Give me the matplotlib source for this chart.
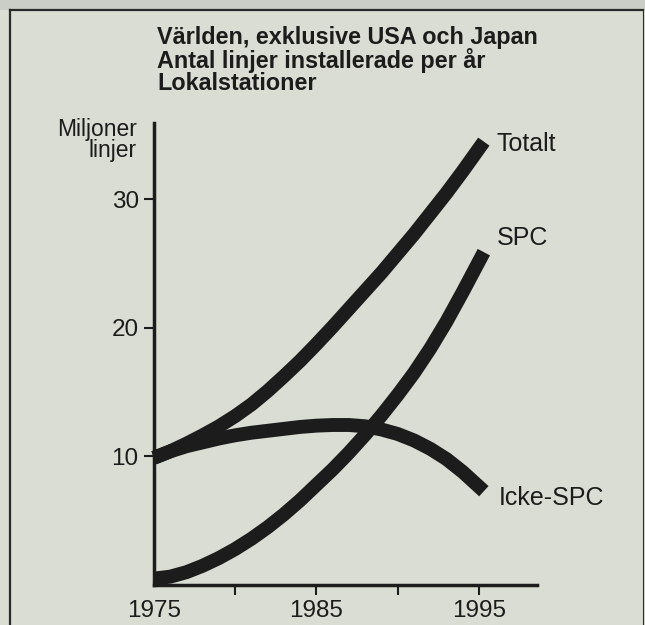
import matplotlib.pyplot as plt
from matplotlib.lines import Line2D
from matplotlib.patches import Rectangle

# data (millions of lines per year)
years = [1975, 1976, 1977, 1978, 1979, 1980, 1981, 1982, 1983, 1984, 1985,
         1986, 1987, 1988, 1989, 1990, 1991, 1992, 1993, 1994, 1995.3]
totalt = [9.9, 10.4, 11.0, 11.65, 12.35, 13.15, 14.05, 15.1, 16.25, 17.45, 18.75,
          20.1, 21.5, 22.9, 24.3, 25.8, 27.3, 28.9, 30.5, 32.2, 34.5]
spc = [0.5, 0.65, 1.0, 1.5, 2.1, 2.8, 3.6, 4.5, 5.5, 6.6, 7.8,
       9.0, 10.3, 11.7, 13.2, 14.8, 16.5, 18.4, 20.5, 22.8, 25.9]
icke_spc = [9.9, 10.4, 10.8, 11.1, 11.4, 11.65, 11.85, 12.0, 12.15, 12.3, 12.4,
            12.45, 12.45, 12.35, 12.1, 11.75, 11.25, 10.6, 9.8, 8.8, 7.3]

xticks = [1975, 1980, 1985, 1990, 1995]
xticklabels = ['1975', '', '1985', '', '1995']
yticks = [10, 20, 30]

title_lines = ['Världen, exklusive USA och Japan',
               'Antal linjer installerade per år',
               'Lokalstationer']

bg = '#d9ddd4'
ink = '#1c1c1c'
W, H = 645, 625

plt.rcParams['font.family'] = ['Liberation Sans', 'DejaVu Sans']

fig = plt.figure(figsize=(W / 100, H / 100), dpi=100)
fig.patch.set_facecolor(bg)

def px(x, y):
    # figure pixel (from top-left) -> figure fraction
    return x / W, 1 - y / H

# darker strip of page above the box
fig.add_artist(Rectangle((0, 1 - 10 / H), 1, 10 / H, transform=fig.transFigure,
                         facecolor='#cbcec7', edgecolor='none'))

ax = fig.add_axes([154 / W, 40 / H, 383 / W, 462 / H])
ax.set_facecolor('none')
ax.set_xlim(1975, 1998.57)
ax.set_ylim(0, 35.95)

for s in ['top', 'right']:
    ax.spines[s].set_visible(False)
for s in ['left', 'bottom']:
    ax.spines[s].set_linewidth(2.5)
    ax.spines[s].set_color(ink)

ax.set_xticks(xticks)
ax.set_xticklabels(xticklabels)
ax.set_yticks(yticks)
ax.tick_params(direction='out', length=7, width=1.5, colors=ink,
               labelsize=17.5, pad=4)
ax.xaxis.get_major_ticks()[0].tick1line.set_visible(False)

for vals in [totalt, spc, icke_spc]:
    ax.plot(years, vals, color=ink, lw=10, solid_capstyle='butt',
            solid_joinstyle='round', clip_on=False)

# series labels
fig.text(*px(497, 144), 'Totalt', fontsize=18, color=ink, va='center')
fig.text(*px(497, 238), 'SPC', fontsize=18, color=ink, va='center')
fig.text(*px(499, 498), 'Icke-SPC', fontsize=18, color=ink, va='center')

# y unit label (baseline = last line)
fig.text(*px(137, 157), 'Miljoner\nlinjer', fontsize=16.5, color=ink,
         ha='right', va='baseline', multialignment='right', linespacing=0.87)

# title block (baseline = last line)
fig.text(*px(157, 90.5), '\n'.join(title_lines), fontsize=16.8, fontweight='bold',
         color=ink, va='baseline', linespacing=0.95)

# frame of the printed box
frame = dict(transform=fig.transFigure, color='#2a2a2a', lw=1.6)
fig.add_artist(Line2D([10 / W, 10 / W], [0, 1 - 10 / H], **frame))
fig.add_artist(Line2D([10 / W, 643 / W], [1 - 10 / H, 1 - 10 / H], **frame))
fig.add_artist(Line2D([643 / W, 643 / W], [0, 1 - 10 / H], **dict(frame, lw=0.8)))

fig.savefig('out.png', dpi=100, facecolor=bg)
